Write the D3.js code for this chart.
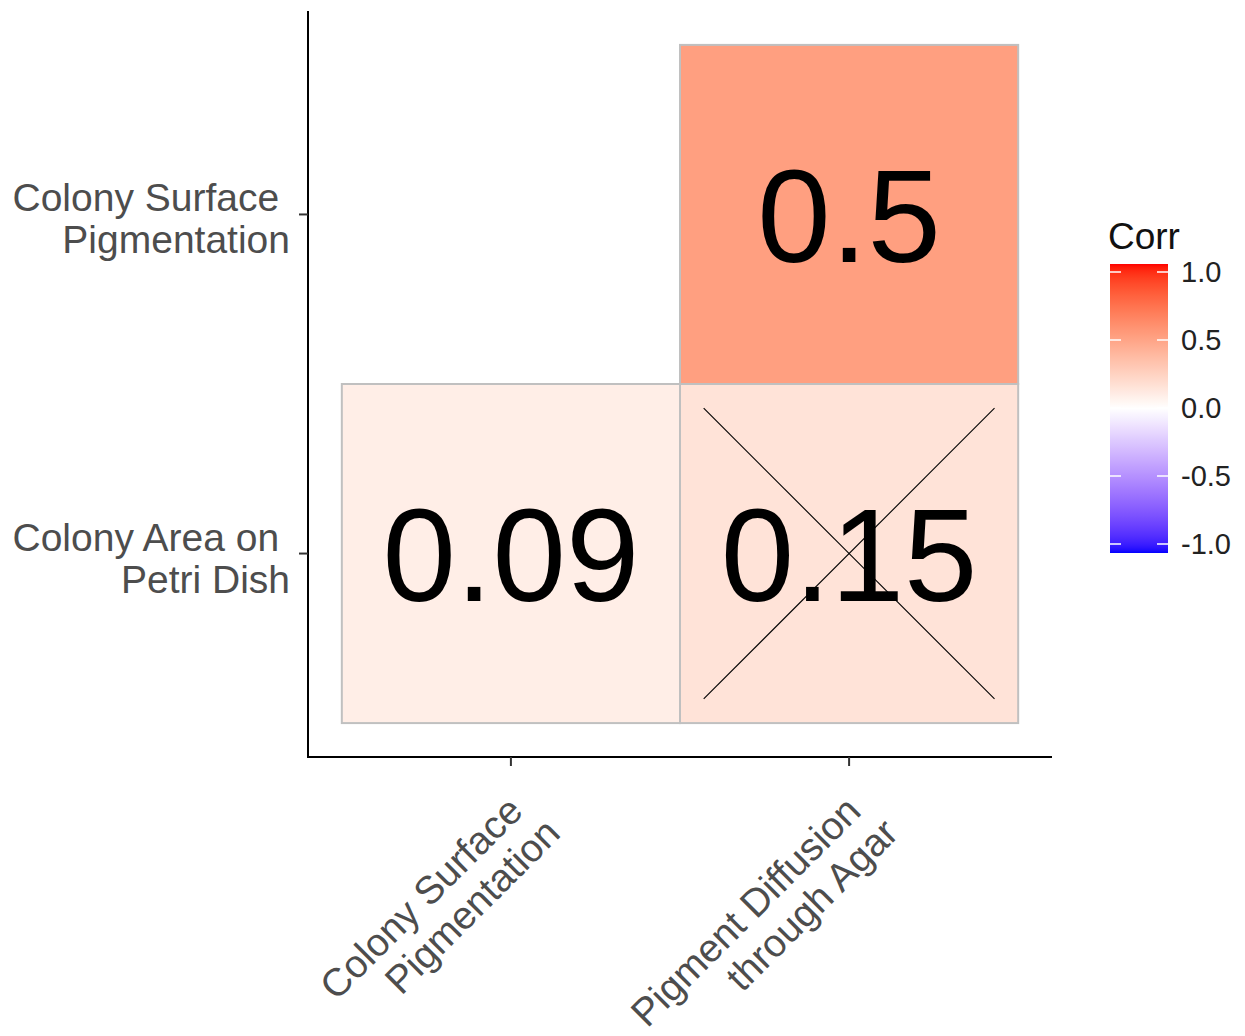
<!DOCTYPE html>
<html>
<head>
<meta charset="utf-8">
<script src="https://cdn.jsdelivr.net/npm/d3@7"></script>
<style>
  body { margin: 0; background: #fff; }
  text { font-family: "Liberation Sans", Arial, sans-serif; white-space: pre; }
</style>
</head>
<body>
<svg id="chart" width="1245" height="1036"></svg>
<script>
// variables on each axis (labels wrapped like the original)
const xVars = ["Colony Surface Pigmentation", "Pigment Diffusion through Agar"];
const xLabels = [["Colony Surface ", "Pigmentation"], ["Pigment Diffusion ", "through Agar"]];
const yVars = ["Colony Area on Petri Dish", "Colony Surface Pigmentation"];
const yLabels = [["Colony Area on ", "Petri Dish"], ["Colony Surface ", "Pigmentation"]];

// cells of the lower triangle
const cellX = ["Colony Surface Pigmentation", "Pigment Diffusion through Agar", "Pigment Diffusion through Agar"];
const cellY = ["Colony Area on Petri Dish", "Colony Area on Petri Dish", "Colony Surface Pigmentation"];
const corrValues = [0.09, 0.15, 0.5];
const notSignificant = [false, true, false];

const legendTicks = [1.0, 0.5, 0.0, -0.5, -1.0];

const svg = d3.select("#chart");

const x = d3.scalePoint().domain(xVars).range([308, 1052]).padding(0.6);
const y = d3.scalePoint().domain(yVars).range([757, 11]).padding(0.6);
const color = d3.scaleLinear().domain([-1, 0, 1]).range(["blue", "white", "red"]).interpolate(d3.interpolateLab);

const cells = corrValues.map((v, i) => ({ x: cellX[i], y: cellY[i], v: v, ns: notSignificant[i] }));

// tiles
svg.append("g").selectAll("rect")
  .data(cells)
  .enter()
  .append("rect")
  .attr("x", d => x(d.x) - x.step() / 2)
  .attr("y", d => y(d.y) - y.step() / 2)
  .attr("width", x.step())
  .attr("height", y.step())
  .attr("fill", d => color(d.v))
  .attr("stroke", "#c0c0c0")
  .attr("stroke-width", 2);

// values
svg.append("g").selectAll("text")
  .data(cells)
  .enter()
  .append("text")
  .attr("x", d => x(d.x))
  .attr("y", d => y(d.y))
  .attr("dy", "0.36em")
  .attr("text-anchor", "middle")
  .attr("font-size", 132)
  .attr("fill", "#000")
  .text(d => d.v);

// crosses for insignificant cells
const crossHalf = x.step() * 0.43;
const crossed = cells.filter(d => d.ns);
const cg = svg.append("g").attr("stroke", "#000").attr("stroke-width", 1.1);
crossed.forEach(d => {
  const cx = x(d.x), cy = y(d.y);
  cg.append("line").attr("x1", cx - crossHalf).attr("y1", cy - crossHalf).attr("x2", cx + crossHalf).attr("y2", cy + crossHalf);
  cg.append("line").attr("x1", cx - crossHalf).attr("y1", cy + crossHalf).attr("x2", cx + crossHalf).attr("y2", cy - crossHalf);
});

// axes
const axisG = svg.append("g").attr("stroke", "#000").attr("stroke-width", 2);
axisG.append("line").attr("x1", 308).attr("x2", 308).attr("y1", 11).attr("y2", 758);
axisG.append("line").attr("x1", 307).attr("x2", 1052).attr("y1", 757).attr("y2", 757);

xVars.forEach((v, i) => {
  const px = x(v);
  svg.append("line").attr("x1", px).attr("x2", px).attr("y1", 757).attr("y2", 766)
    .attr("stroke", "#333").attr("stroke-width", 2);
  const t = svg.append("text")
    .attr("transform", `translate(${px + 1},${785}) rotate(-45)`)
    .attr("text-anchor", "end")
    .attr("font-size", 39)
    .attr("fill", "#4d4d4d");
  xLabels[i].forEach((line, j) => {
    t.append("tspan").attr("x", 0).attr("y", 29 + j * 42).text(line);
  });
});

yVars.forEach((v, i) => {
  const py = y(v);
  svg.append("line").attr("x1", 299).attr("x2", 308).attr("y1", py).attr("y2", py)
    .attr("stroke", "#333").attr("stroke-width", 2);
  const t = svg.append("text")
    .attr("text-anchor", "end")
    .attr("font-size", 39)
    .attr("fill", "#4d4d4d");
  yLabels[i].forEach((line, j) => {
    t.append("tspan").attr("x", 290).attr("y", py - 3 + j * 42).text(line);
  });
});

// legend
const legY = d3.scaleLinear().domain([-1, 1]).range([544, 272]);
const defs = svg.append("defs");
const grad = defs.append("linearGradient")
  .attr("id", "corr-grad")
  .attr("x1", "0%").attr("y1", "100%")
  .attr("x2", "0%").attr("y2", "0%");
for (let i = 0; i <= 100; i++) {
  grad.append("stop")
    .attr("offset", `${i}%`)
    .attr("stop-color", color(-1 + 2 * i / 100));
}
svg.append("rect")
  .attr("x", 1110).attr("y", 264)
  .attr("width", 58).attr("height", 289)
  .attr("fill", "url(#corr-grad)");

const lt = svg.append("g");
legendTicks.forEach(t => {
  const py = legY(t);
  lt.append("line").attr("x1", 1110).attr("x2", 1121).attr("y1", py).attr("y2", py).attr("stroke", "#fff").attr("stroke-width", 1.5);
  lt.append("line").attr("x1", 1157).attr("x2", 1168).attr("y1", py).attr("y2", py).attr("stroke", "#fff").attr("stroke-width", 1.5);
  lt.append("text").attr("x", 1181).attr("y", py).attr("dy", "0.36em")
    .attr("font-size", 29).attr("fill", "#222").text(d3.format(".1f")(t).replace("−", "-"));
});

svg.append("text")
  .attr("x", 1108).attr("y", 249)
  .attr("font-size", 37)
  .attr("fill", "#111")
  .text("Corr");
</script>
</body>
</html>
